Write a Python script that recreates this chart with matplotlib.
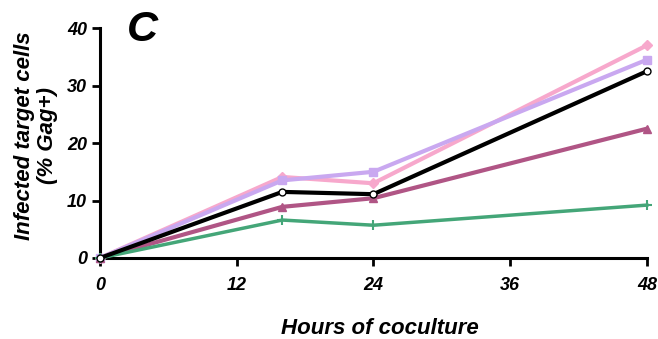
import matplotlib
matplotlib.use("Agg")
import matplotlib.pyplot as plt

hours = [0, 16, 24, 48]
pink = [0, 14.1, 13.0, 37.0]
lavender = [0, 13.5, 15.0, 34.5]
black = [0, 11.5, 11.1, 32.5]
mauve = [0, 8.9, 10.4, 22.5]
green = [0, 6.6, 5.7, 9.2]
xticks = [0, 12, 24, 36, 48]
yticks = [0, 10, 20, 30, 40]

plt.rcParams['font.family'] = ['Liberation Sans', 'DejaVu Sans']
fig = plt.figure(figsize=(6.58, 3.39), dpi=100)
ax = fig.add_axes([0.152, 0.239, 0.831, 0.678])

lw = 3
ax.plot(hours, pink, color='#f7a8cc', lw=lw, marker='D', ms=5, clip_on=False, zorder=3)
ax.plot(hours, lavender, color='#c9a8f0', lw=lw, marker='s', ms=6, clip_on=False, zorder=4)
ax.plot(hours, black, color='black', lw=lw, marker='o', ms=5, mfc='white', mec='black', mew=1, clip_on=False, zorder=5)
ax.plot(hours, mauve, color='#b05585', lw=lw, marker='^', ms=6, clip_on=False, zorder=4)
ax.plot(hours, green, color='#44a678', lw=lw - 0.5, marker='+', ms=7, mew=1.5, clip_on=False, zorder=4)

ax.set_xlim(0, 48)
ax.set_ylim(0, 40)
ax.set_xticks(xticks)
ax.set_yticks(yticks)
for s in ['top', 'right']:
    ax.spines[s].set_visible(False)
for s in ['left', 'bottom']:
    ax.spines[s].set_linewidth(2.2)
ax.tick_params(direction='out', width=2, length=6, labelsize=13)
for lab in ax.get_xticklabels() + ax.get_yticklabels():
    lab.set_fontweight('bold')
    lab.set_fontstyle('italic')
ax.tick_params(axis='x', pad=8)

fig.text(0.578, 0.032, 'Hours of coculture', fontsize=16, fontweight='bold', fontstyle='italic',
         ha='center', va='center')
fig.text(0.055, 0.6, 'Infected target cells\n(% Gag+)', fontsize=16, fontweight='bold', fontstyle='italic',
         ha='center', va='center', rotation=90, linespacing=1.1)
fig.text(0.193, 0.912, 'C', fontsize=31, fontweight='bold', fontstyle='italic', ha='left', va='center')

fig.savefig('out.png', dpi=100)
